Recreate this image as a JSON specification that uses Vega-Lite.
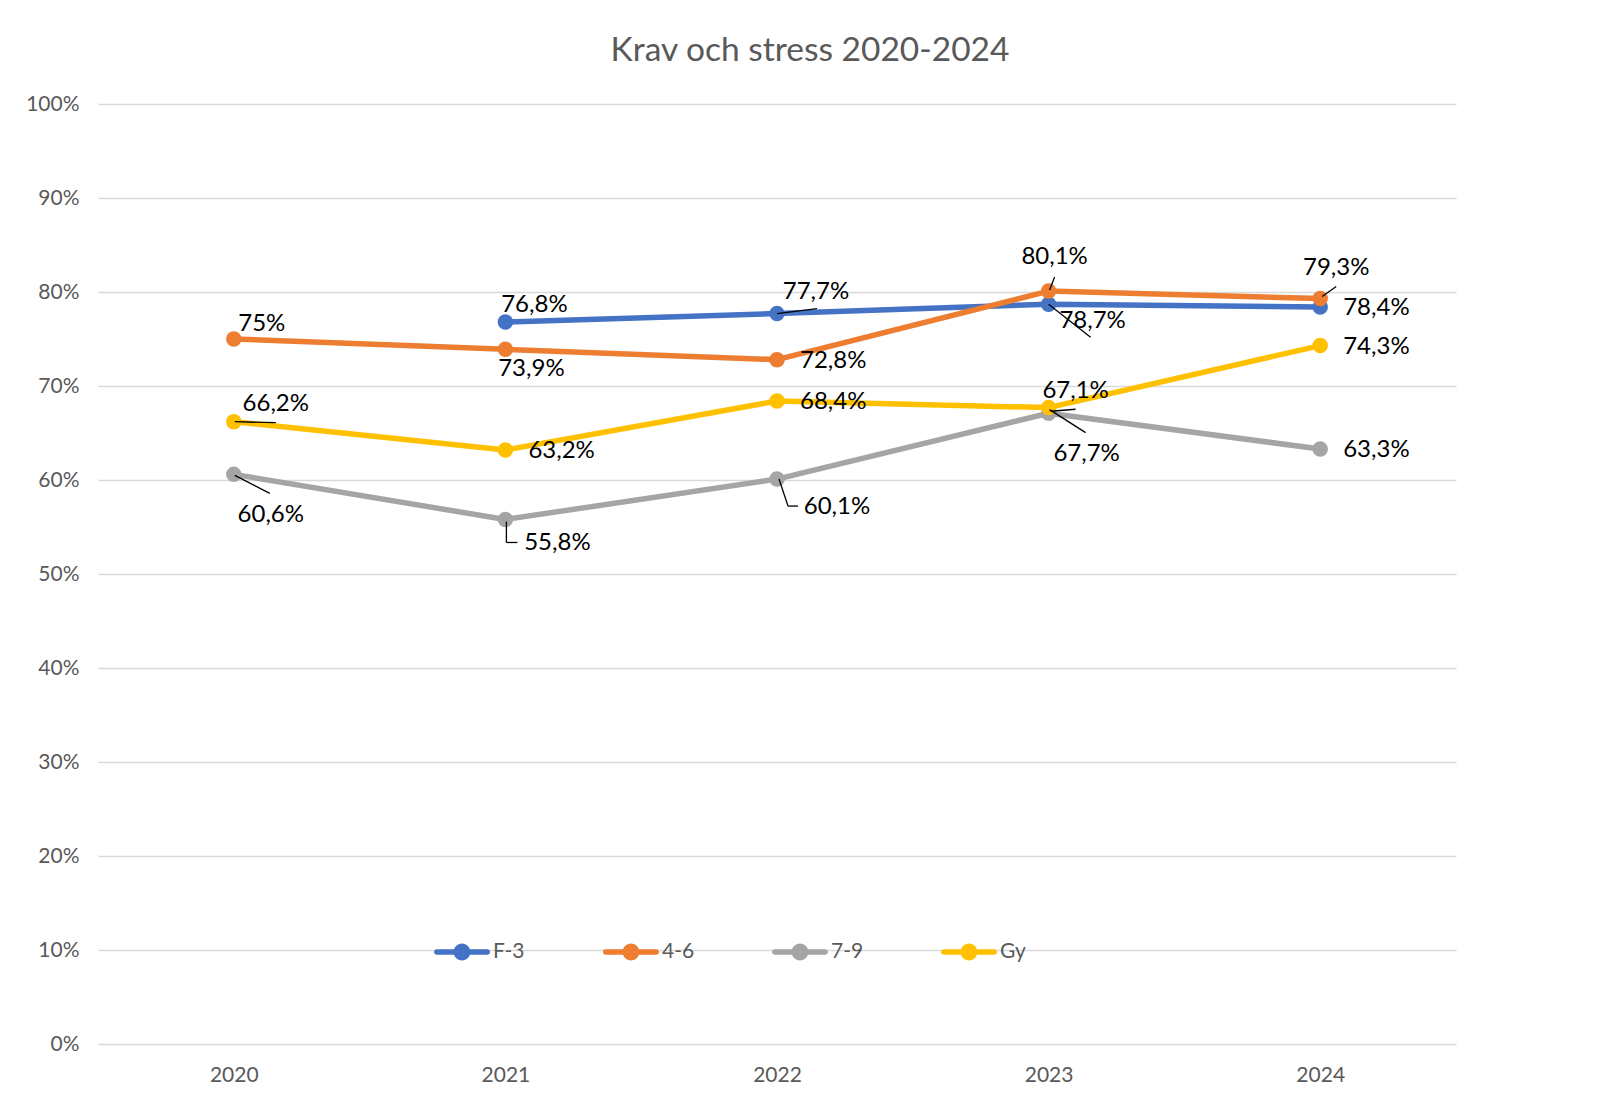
{
  "$schema": "https://vega.github.io/schema/vega-lite/v6.json",
  "width": 1358,
  "height": 940,
  "autosize": {"type": "none"},
  "padding": {"left": 98, "top": 104, "right": 152, "bottom": 56},
  "background": "white",
  "title": {
    "text": "Krav och stress 2020-2024",
    "font": "Lato",
    "fontSize": 33.5,
    "fontWeight": "normal",
    "color": "#595959",
    "anchor": "middle",
    "offset": 25,
    "dx": 33
  },
  "data": {
    "values": [
      {"series": "F-3", "year": "2021", "value": 0.768},
      {"series": "F-3", "year": "2022", "value": 0.777},
      {"series": "F-3", "year": "2023", "value": 0.787},
      {"series": "F-3", "year": "2024", "value": 0.784},
      {"series": "4-6", "year": "2020", "value": 0.75},
      {"series": "4-6", "year": "2021", "value": 0.739},
      {"series": "4-6", "year": "2022", "value": 0.728},
      {"series": "4-6", "year": "2023", "value": 0.801},
      {"series": "4-6", "year": "2024", "value": 0.793},
      {"series": "7-9", "year": "2020", "value": 0.606},
      {"series": "7-9", "year": "2021", "value": 0.558},
      {"series": "7-9", "year": "2022", "value": 0.601},
      {"series": "7-9", "year": "2023", "value": 0.671},
      {"series": "7-9", "year": "2024", "value": 0.633},
      {"series": "Gy", "year": "2020", "value": 0.662},
      {"series": "Gy", "year": "2021", "value": 0.632},
      {"series": "Gy", "year": "2022", "value": 0.684},
      {"series": "Gy", "year": "2023", "value": 0.677},
      {"series": "Gy", "year": "2024", "value": 0.743}
    ]
  },
  "encoding": {
    "x": {
      "field": "year", "type": "ordinal",
      "scale": {"type": "point", "padding": 0.5},
      "axis": {"title": null, "labelAngle": 0, "labelPadding": 20, "grid": false, "domain": false, "ticks": false}
    },
    "y": {
      "field": "value", "type": "quantitative",
      "scale": {"domain": [0, 1], "nice": false, "zero": true},
      "axis": {
        "title": null, "format": ".0%",
        "values": [0, 0.1, 0.2, 0.3, 0.4, 0.5, 0.6, 0.7, 0.8, 0.9, 1],
        "grid": true, "domain": false, "ticks": false, "labelPadding": 19
      }
    },
    "color": {
      "field": "series", "type": "nominal",
      "scale": {"domain": ["F-3", "4-6", "7-9", "Gy"], "range": ["#4472C4", "#ED7D31", "#A5A5A5", "#FFC000"]},
      "legend": {
        "orient": "none", "legendX": 336, "legendY": 820, "direction": "horizontal",
        "title": null, "padding": 0,
        "symbolType": "M-0.9,-0.1 L0.9,-0.1 A0.1,0.1 0 0,1 0.9,0.1 L-0.9,0.1 A0.1,0.1 0 0,1 -0.9,-0.1 Z M0.3,0 A0.3,0.3 0 1,1 -0.3,0 A0.3,0.3 0 1,1 0.3,0 Z",
        "symbolSize": 3136, "symbolStrokeWidth": 0, "symbolOpacity": 1,
        "labelFont": "Lato", "labelFontSize": 21, "labelColor": "#595959", "labelOffset": 3,
        "columnPadding": 77, "gridAlign": "all",
        "encode": {"symbols": {"update": {"fill": {"scale": "color", "field": "value"}, "strokeWidth": {"value": 0}, "opacity": {"value": 1}}}}
      }
    }
  },
  "layer": [
    {
      "mark": {"type": "line", "strokeWidth": 5.5, "strokeCap": "round", "strokeJoin": "round"}
    },
    {
      "mark": {"type": "circle", "size": 240, "opacity": 1}
    },
    {
      "transform": [{"filter": "datum.series === 'F-3' && datum.year === '2022'"}],
      "mark": {"type": "rule", "color": "black", "strokeWidth": 1.3, "xOffset": 0, "yOffset": 0, "x2Offset": 40, "y2Offset": -5},
      "encoding": {"x2": {"field": "year"}, "y2": {"field": "value"}, "color": {"value": "black"}}
    },
    {
      "transform": [{"filter": "datum.series === 'F-3' && datum.year === '2023'"}],
      "mark": {"type": "rule", "color": "black", "strokeWidth": 1.3, "xOffset": 0, "yOffset": 0, "x2Offset": 42, "y2Offset": 33},
      "encoding": {"x2": {"field": "year"}, "y2": {"field": "value"}, "color": {"value": "black"}}
    },
    {
      "transform": [{"filter": "datum.series === '4-6' && datum.year === '2023'"}],
      "mark": {"type": "rule", "color": "black", "strokeWidth": 1.3, "xOffset": 1, "yOffset": -1, "x2Offset": 6, "y2Offset": -14},
      "encoding": {"x2": {"field": "year"}, "y2": {"field": "value"}, "color": {"value": "black"}}
    },
    {
      "transform": [{"filter": "datum.series === '4-6' && datum.year === '2024'"}],
      "mark": {"type": "rule", "color": "black", "strokeWidth": 1.3, "xOffset": 2, "yOffset": -2, "x2Offset": 16, "y2Offset": -12},
      "encoding": {"x2": {"field": "year"}, "y2": {"field": "value"}, "color": {"value": "black"}}
    },
    {
      "transform": [{"filter": "datum.series === '7-9' && datum.year === '2020'"}],
      "mark": {"type": "rule", "color": "black", "strokeWidth": 1.3, "xOffset": 1, "yOffset": 1, "x2Offset": 36, "y2Offset": 19},
      "encoding": {"x2": {"field": "year"}, "y2": {"field": "value"}, "color": {"value": "black"}}
    },
    {
      "transform": [{"filter": "datum.series === '7-9' && datum.year === '2021'"}],
      "mark": {"type": "rule", "color": "black", "strokeWidth": 1.3, "xOffset": 1, "yOffset": 2, "x2Offset": 1, "y2Offset": 23},
      "encoding": {"x2": {"field": "year"}, "y2": {"field": "value"}, "color": {"value": "black"}}
    },
    {
      "transform": [{"filter": "datum.series === '7-9' && datum.year === '2021'"}],
      "mark": {"type": "rule", "color": "black", "strokeWidth": 1.3, "xOffset": 1, "yOffset": 23, "x2Offset": 12, "y2Offset": 23},
      "encoding": {"x2": {"field": "year"}, "y2": {"field": "value"}, "color": {"value": "black"}}
    },
    {
      "transform": [{"filter": "datum.series === '7-9' && datum.year === '2022'"}],
      "mark": {"type": "rule", "color": "black", "strokeWidth": 1.3, "xOffset": 2, "yOffset": 0, "x2Offset": 11, "y2Offset": 27},
      "encoding": {"x2": {"field": "year"}, "y2": {"field": "value"}, "color": {"value": "black"}}
    },
    {
      "transform": [{"filter": "datum.series === '7-9' && datum.year === '2022'"}],
      "mark": {"type": "rule", "color": "black", "strokeWidth": 1.3, "xOffset": 11, "yOffset": 27, "x2Offset": 21, "y2Offset": 27},
      "encoding": {"x2": {"field": "year"}, "y2": {"field": "value"}, "color": {"value": "black"}}
    },
    {
      "transform": [{"filter": "datum.series === '7-9' && datum.year === '2023'"}],
      "mark": {"type": "rule", "color": "black", "strokeWidth": 1.3, "xOffset": 2, "yOffset": -2, "x2Offset": 27, "y2Offset": -4},
      "encoding": {"x2": {"field": "year"}, "y2": {"field": "value"}, "color": {"value": "black"}}
    },
    {
      "transform": [{"filter": "datum.series === 'Gy' && datum.year === '2020'"}],
      "mark": {"type": "rule", "color": "black", "strokeWidth": 1.3, "xOffset": 1, "yOffset": 0, "x2Offset": 42, "y2Offset": 1},
      "encoding": {"x2": {"field": "year"}, "y2": {"field": "value"}, "color": {"value": "black"}}
    },
    {
      "transform": [{"filter": "datum.series === 'Gy' && datum.year === '2023'"}],
      "mark": {"type": "rule", "color": "black", "strokeWidth": 1.3, "xOffset": 1, "yOffset": 2, "x2Offset": 37, "y2Offset": 25},
      "encoding": {"x2": {"field": "year"}, "y2": {"field": "value"}, "color": {"value": "black"}}
    },
    {
      "transform": [{"filter": "indexof(['F-3|2024', '4-6|2022', '7-9|2024', 'Gy|2021', 'Gy|2022', 'Gy|2024'], datum.series + '|' + datum.year) >= 0"}],
      "mark": {"type": "text", "align": "left", "baseline": "middle", "dx": 23, "dy": 1, "font": "Lato", "fontSize": 24},
      "encoding": {"text": {"field": "value", "type": "quantitative", "format": ".1~%"}, "color": {"value": "black"}}
    },
    {
      "transform": [{"filter": "datum.series === 'F-3' && datum.year === '2021'"}],
      "mark": {"type": "text", "align": "center", "baseline": "middle", "dx": 29, "dy": -17, "font": "Lato", "fontSize": 24},
      "encoding": {"text": {"field": "value", "type": "quantitative", "format": ".1~%"}, "color": {"value": "black"}}
    },
    {
      "transform": [{"filter": "datum.series === 'F-3' && datum.year === '2022'"}],
      "mark": {"type": "text", "align": "center", "baseline": "middle", "dx": 39, "dy": -22, "font": "Lato", "fontSize": 24},
      "encoding": {"text": {"field": "value", "type": "quantitative", "format": ".1~%"}, "color": {"value": "black"}}
    },
    {
      "transform": [{"filter": "datum.series === 'F-3' && datum.year === '2023'"}],
      "mark": {"type": "text", "align": "center", "baseline": "middle", "dx": 44, "dy": 17, "font": "Lato", "fontSize": 24},
      "encoding": {"text": {"field": "value", "type": "quantitative", "format": ".1~%"}, "color": {"value": "black"}}
    },
    {
      "transform": [{"filter": "datum.series === '4-6' && datum.year === '2020'"}],
      "mark": {"type": "text", "align": "center", "baseline": "middle", "dx": 28, "dy": -15, "font": "Lato", "fontSize": 24},
      "encoding": {"text": {"field": "value", "type": "quantitative", "format": ".1~%"}, "color": {"value": "black"}}
    },
    {
      "transform": [{"filter": "datum.series === '4-6' && datum.year === '2021'"}],
      "mark": {"type": "text", "align": "center", "baseline": "middle", "dx": 26, "dy": 20, "font": "Lato", "fontSize": 24},
      "encoding": {"text": {"field": "value", "type": "quantitative", "format": ".1~%"}, "color": {"value": "black"}}
    },
    {
      "transform": [{"filter": "datum.series === '4-6' && datum.year === '2023'"}],
      "mark": {"type": "text", "align": "center", "baseline": "middle", "dx": 6, "dy": -34, "font": "Lato", "fontSize": 24},
      "encoding": {"text": {"field": "value", "type": "quantitative", "format": ".1~%"}, "color": {"value": "black"}}
    },
    {
      "transform": [{"filter": "datum.series === '4-6' && datum.year === '2024'"}],
      "mark": {"type": "text", "align": "center", "baseline": "middle", "dx": 16, "dy": -31, "font": "Lato", "fontSize": 24},
      "encoding": {"text": {"field": "value", "type": "quantitative", "format": ".1~%"}, "color": {"value": "black"}}
    },
    {
      "transform": [{"filter": "datum.series === '7-9' && datum.year === '2020'"}],
      "mark": {"type": "text", "align": "center", "baseline": "middle", "dx": 37, "dy": 41, "font": "Lato", "fontSize": 24},
      "encoding": {"text": {"field": "value", "type": "quantitative", "format": ".1~%"}, "color": {"value": "black"}}
    },
    {
      "transform": [{"filter": "datum.series === '7-9' && datum.year === '2021'"}],
      "mark": {"type": "text", "align": "center", "baseline": "middle", "dx": 52, "dy": 24, "font": "Lato", "fontSize": 24},
      "encoding": {"text": {"field": "value", "type": "quantitative", "format": ".1~%"}, "color": {"value": "black"}}
    },
    {
      "transform": [{"filter": "datum.series === '7-9' && datum.year === '2022'"}],
      "mark": {"type": "text", "align": "center", "baseline": "middle", "dx": 60, "dy": 28, "font": "Lato", "fontSize": 24},
      "encoding": {"text": {"field": "value", "type": "quantitative", "format": ".1~%"}, "color": {"value": "black"}}
    },
    {
      "transform": [{"filter": "datum.series === '7-9' && datum.year === '2023'"}],
      "mark": {"type": "text", "align": "center", "baseline": "middle", "dx": 27, "dy": -22, "font": "Lato", "fontSize": 24},
      "encoding": {"text": {"field": "value", "type": "quantitative", "format": ".1~%"}, "color": {"value": "black"}}
    },
    {
      "transform": [{"filter": "datum.series === 'Gy' && datum.year === '2020'"}],
      "mark": {"type": "text", "align": "center", "baseline": "middle", "dx": 42, "dy": -18, "font": "Lato", "fontSize": 24},
      "encoding": {"text": {"field": "value", "type": "quantitative", "format": ".1~%"}, "color": {"value": "black"}}
    },
    {
      "transform": [{"filter": "datum.series === 'Gy' && datum.year === '2023'"}],
      "mark": {"type": "text", "align": "center", "baseline": "middle", "dx": 38, "dy": 46, "font": "Lato", "fontSize": 24},
      "encoding": {"text": {"field": "value", "type": "quantitative", "format": ".1~%"}, "color": {"value": "black"}}
    }
  ],
  "config": {
    "locale": {"number": {"decimal": ",", "thousands": " ", "grouping": [3], "currency": ["", " kr"]}},
    "view": {"stroke": null},
    "font": "Lato",
    "axis": {
      "labelFont": "Lato", "labelFontSize": 21, "labelColor": "#595959",
      "gridColor": "#D9D9D9", "gridWidth": 1.3
    }
  }
}
